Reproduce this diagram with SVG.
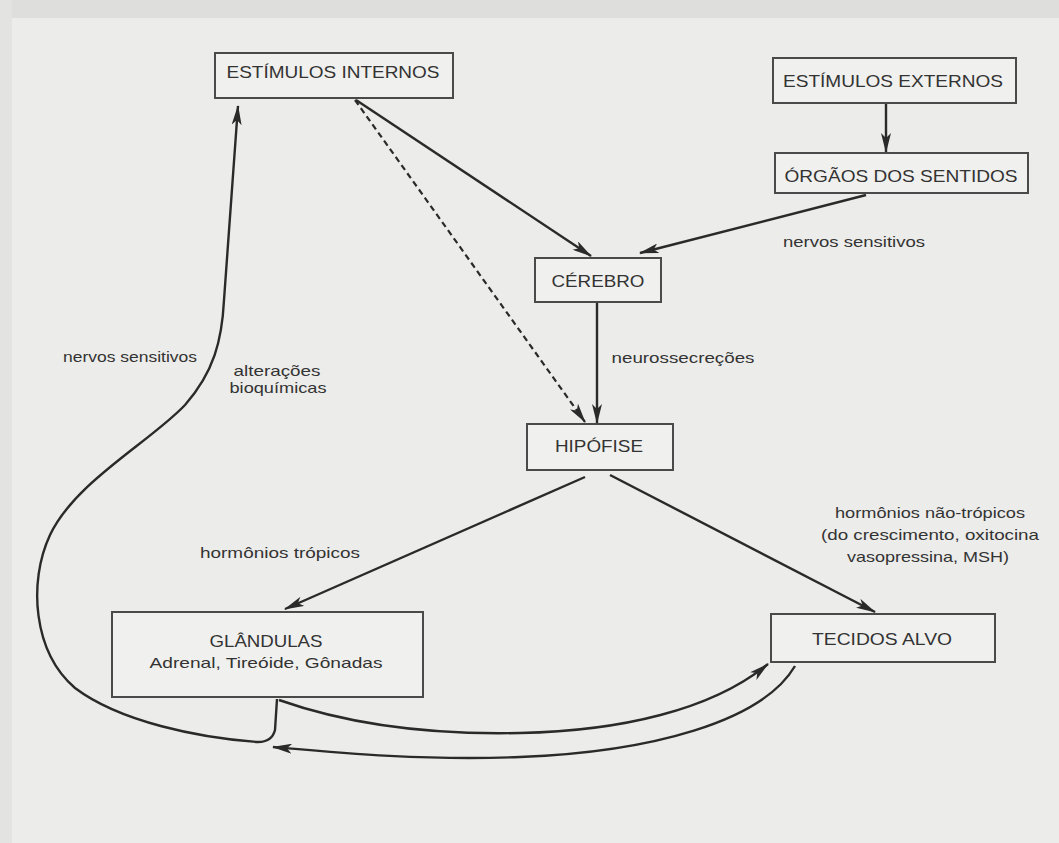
<svg xmlns="http://www.w3.org/2000/svg" width="1059" height="843" viewBox="0 0 1059 843">
<style>
.box{fill:#f0f0ee;stroke:#4a4a4a;stroke-width:2}
.t{font-family:"Liberation Sans",Arial,sans-serif;fill:#333;text-anchor:middle}
.big{font-size:17px}
.sm{font-size:15px}
.c{fill:none;stroke:#2a2a2a;stroke-width:2.4}
.d{fill:none;stroke:#2a2a2a;stroke-width:2.2;stroke-dasharray:6 4}
</style>
<defs>
<marker id="ah" viewBox="0 0 20 10" refX="19" refY="5" markerWidth="20" markerHeight="10" markerUnits="userSpaceOnUse" orient="auto">
<path d="M0,0 L20,5 L0,10 L5,5 Z" fill="#2a2a2a"/>
</marker>
</defs>
<rect x="0" y="0" width="1059" height="843" fill="#ececea"/>
<rect x="0" y="0" width="1059" height="18" fill="#dededc"/>
<rect x="0" y="0" width="12" height="843" fill="#e3e3e1"/>

<g id="connectors">
<line class="c" x1="356" y1="100" x2="591" y2="256" marker-end="url(#ah)"/>
<line class="d" x1="355" y1="100" x2="585" y2="422" marker-end="url(#ah)"/>
<line class="c" x1="886" y1="104" x2="886" y2="152" marker-end="url(#ah)"/>
<line class="c" x1="866" y1="195" x2="640" y2="253" marker-end="url(#ah)"/>
<line class="c" x1="597" y1="303" x2="597" y2="423" marker-end="url(#ah)"/>
<line class="c" x1="585" y1="477" x2="285" y2="609" marker-end="url(#ah)"/>
<line class="c" x1="610" y1="475" x2="875" y2="612" marker-end="url(#ah)"/>
<path class="c" d="M 277,699 L 275,730 Q 272,742 258,742 C 200,738 120,722 75,688 C 33,652 28,582 50,535 C 75,482 150,442 185,405 C 214,372 222,340 224,300 L 238,106" marker-end="url(#ah)"/>
<path class="c" d="M 279,700 C 350,725 430,735 520,733 C 620,731 712,710 768,664" marker-end="url(#ah)"/>
<path class="c" d="M 795,666 C 762,722 650,752 520,757 C 420,761 330,752 273,747" marker-end="url(#ah)"/>
</g>

<g id="estimulos-internos">
<rect class="box" x="215" y="53" width="238" height="45"/>
<text class="t big" x="333" y="78" textLength="213" lengthAdjust="spacingAndGlyphs">ESTÍMULOS INTERNOS</text>
</g>
<g id="estimulos-externos">
<rect class="box" x="773" y="58" width="243" height="45"/>
<text class="t big" x="893" y="87" textLength="220" lengthAdjust="spacingAndGlyphs">ESTÍMULOS EXTERNOS</text>
</g>
<g id="orgaos-dos-sentidos">
<rect class="box" x="775" y="153" width="253" height="40"/>
<text class="t big" x="901" y="182" textLength="233" lengthAdjust="spacingAndGlyphs">ÓRGÃOS DOS SENTIDOS</text>
</g>
<g id="cerebro">
<rect class="box" x="535" y="258" width="126" height="44"/>
<text class="t big" x="598" y="287" textLength="93" lengthAdjust="spacingAndGlyphs">CÉREBRO</text>
</g>
<g id="hipofise">
<rect class="box" x="527" y="424" width="146" height="46"/>
<text class="t big" x="599" y="452" textLength="88" lengthAdjust="spacingAndGlyphs">HIPÓFISE</text>
</g>
<g id="glandulas">
<rect class="box" x="112" y="612" width="311" height="85"/>
<text class="t big" x="266" y="647" textLength="113" lengthAdjust="spacingAndGlyphs">GLÂNDULAS</text>
<text class="t sm" x="266" y="668" textLength="233" lengthAdjust="spacingAndGlyphs">Adrenal, Tireóide, Gônadas</text>
</g>
<g id="tecidos-alvo">
<rect class="box" x="771" y="614" width="224" height="48"/>
<text class="t big" x="882" y="645" textLength="140" lengthAdjust="spacingAndGlyphs">TECIDOS ALVO</text>
</g>

<g id="labels">
<text class="t sm" x="854" y="247" textLength="142" lengthAdjust="spacingAndGlyphs">nervos sensitivos</text>
<text class="t sm" x="683" y="363" textLength="143" lengthAdjust="spacingAndGlyphs">neurossecreções</text>
<text class="t sm" x="130" y="362" textLength="134" lengthAdjust="spacingAndGlyphs">nervos sensitivos</text>
<text class="t sm" x="277" y="376" textLength="87" lengthAdjust="spacingAndGlyphs">alterações</text>
<text class="t sm" x="278" y="393" textLength="97" lengthAdjust="spacingAndGlyphs">bioquímicas</text>
<text class="t sm" x="280" y="558" textLength="160" lengthAdjust="spacingAndGlyphs">hormônios trópicos</text>
<text class="t sm" x="930" y="518" textLength="190" lengthAdjust="spacingAndGlyphs">hormônios não-trópicos</text>
<text class="t sm" x="930" y="540" textLength="218" lengthAdjust="spacingAndGlyphs">(do crescimento, oxitocina</text>
<text class="t sm" x="928" y="562" textLength="162" lengthAdjust="spacingAndGlyphs">vasopressina, MSH)</text>
</g>
</svg>
